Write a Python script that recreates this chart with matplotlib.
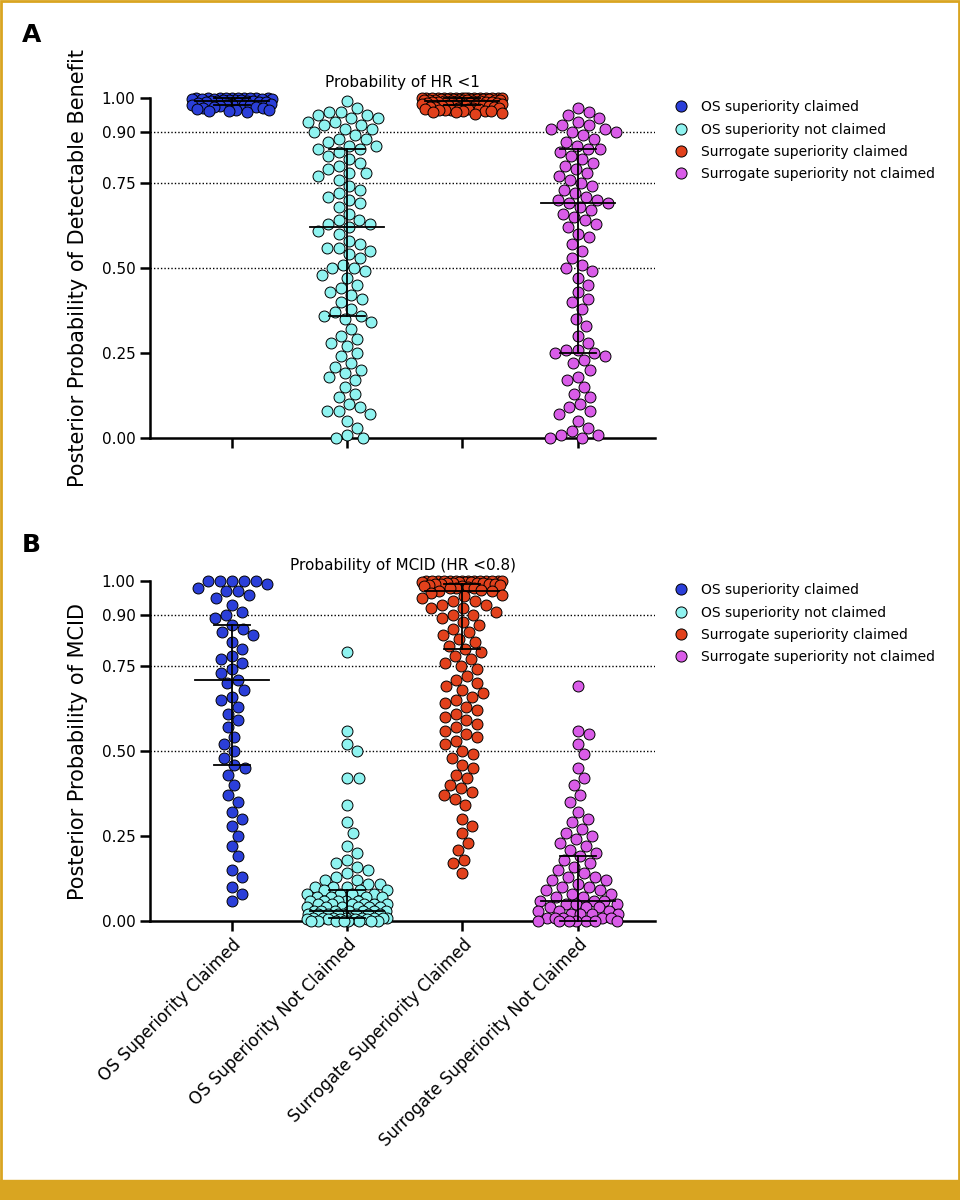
import matplotlib.pyplot as plt
import numpy as np
from matplotlib.patches import Rectangle
from matplotlib.lines import Line2D

CATEGORIES = ["OS Superiority Claimed", "OS Superiority Not Claimed",
              "Surrogate Superiority Claimed", "Surrogate Superiority Not Claimed"]
LEGEND_LABELS = ["OS superiority claimed", "OS superiority not claimed",
                 "Surrogate superiority claimed", "Surrogate superiority not claimed"]
COLORS = ["#2b3fd9", "#8ff3f0", "#e2411c", "#d95ce8"]

# Panel A: probability of HR < 1
A_os_c = [1.00, 1.00, 1.00, 1.00, 1.00, 1.00, 1.00, 1.00, 0.999, 0.999, 0.998, 0.998, 0.997, 0.997,
          0.996, 0.995, 0.995, 0.994, 0.993, 0.992, 0.991, 0.990, 0.99, 0.989, 0.988, 0.987, 0.985,
          0.984, 0.983, 0.982, 0.98, 0.98, 0.979, 0.978, 0.977, 0.975, 0.974, 0.972, 0.97, 0.968,
          0.966, 0.965, 0.963, 0.962, 0.96]
A_os_nc = [0.99, 0.97, 0.96, 0.96, 0.95, 0.95, 0.94, 0.94, 0.93, 0.93, 0.92, 0.92, 0.91, 0.91, 0.90,
           0.89, 0.88, 0.88, 0.87, 0.86, 0.86, 0.85, 0.85, 0.84, 0.83, 0.82, 0.81, 0.80, 0.79, 0.78,
           0.78, 0.77, 0.76, 0.74, 0.73, 0.72, 0.71, 0.70, 0.69, 0.68, 0.66, 0.64, 0.64, 0.63, 0.63,
           0.62, 0.61, 0.60, 0.58, 0.57, 0.56, 0.56, 0.55, 0.54, 0.53, 0.51, 0.50, 0.50, 0.49, 0.48,
           0.47, 0.45, 0.44, 0.43, 0.42, 0.41, 0.40, 0.38, 0.37, 0.36, 0.36, 0.35, 0.34, 0.32, 0.30,
           0.29, 0.28, 0.27, 0.25, 0.24, 0.22, 0.21, 0.20, 0.19, 0.18, 0.17, 0.15, 0.13, 0.12, 0.10,
           0.09, 0.08, 0.08, 0.07, 0.05, 0.03, 0.01, 0.00, 0.00]
A_sur_c = [1.00, 1.00, 1.00, 1.00, 1.00, 1.00, 1.00, 1.00, 1.00, 1.00, 1.00, 1.00, 0.999, 0.999,
           0.999, 0.999, 0.998, 0.998, 0.998, 0.997, 0.997, 0.997, 0.996, 0.996, 0.995, 0.995,
           0.995, 0.994, 0.994, 0.993, 0.993, 0.992, 0.992, 0.991, 0.990, 0.990, 0.989, 0.988,
           0.988, 0.987, 0.986, 0.985, 0.985, 0.984, 0.983, 0.982, 0.981, 0.980, 0.980, 0.979,
           0.978, 0.977, 0.976, 0.975, 0.974, 0.973, 0.972, 0.971, 0.970, 0.969, 0.968, 0.967,
           0.966, 0.965, 0.964, 0.963, 0.962, 0.961, 0.960, 0.958, 0.955, 0.952]
A_sur_nc = [0.97, 0.96, 0.95, 0.94, 0.93, 0.92, 0.92, 0.91, 0.91, 0.90, 0.90, 0.89, 0.88, 0.87, 0.86,
            0.85, 0.85, 0.84, 0.83, 0.82, 0.81, 0.80, 0.79, 0.78, 0.77, 0.76, 0.75, 0.74, 0.73, 0.72,
            0.71, 0.70, 0.70, 0.69, 0.69, 0.68, 0.67, 0.66, 0.65, 0.64, 0.63, 0.62, 0.60, 0.59, 0.57,
            0.55, 0.53, 0.51, 0.50, 0.49, 0.47, 0.45, 0.43, 0.41, 0.40, 0.38, 0.35, 0.33, 0.30, 0.28,
            0.26, 0.26, 0.25, 0.25, 0.24, 0.23, 0.22, 0.20, 0.18, 0.17, 0.15, 0.13, 0.12, 0.10, 0.09,
            0.08, 0.07, 0.05, 0.03, 0.02, 0.01, 0.01, 0.00, 0.00]

# Panel B: probability of MCID (HR < 0.8)
B_os_c = [1.0, 1.0, 1.0, 1.0, 1.0, 0.99, 0.98, 0.97, 0.97, 0.96, 0.95, 0.93, 0.91, 0.90, 0.89, 0.87,
          0.86, 0.85, 0.84, 0.82, 0.80, 0.78, 0.77, 0.76, 0.74, 0.73, 0.71, 0.70, 0.68, 0.66, 0.65,
          0.63, 0.61, 0.59, 0.57, 0.54, 0.52, 0.50, 0.48, 0.46, 0.45, 0.43, 0.40, 0.37, 0.35, 0.32,
          0.30, 0.28, 0.25, 0.22, 0.19, 0.15, 0.13, 0.10, 0.08, 0.06]
B_os_nc = [0.79, 0.56, 0.52, 0.50, 0.42, 0.42, 0.34, 0.29, 0.26, 0.22, 0.20, 0.18, 0.17, 0.16, 0.15,
           0.14, 0.13, 0.12, 0.12, 0.11, 0.11, 0.10, 0.10, 0.10, 0.09, 0.09, 0.09, 0.08, 0.08, 0.08,
           0.08, 0.07, 0.07, 0.07, 0.07, 0.06, 0.06, 0.06, 0.06, 0.06, 0.05, 0.05, 0.05, 0.05, 0.05,
           0.05, 0.04, 0.04, 0.04, 0.04, 0.04, 0.04, 0.03, 0.03, 0.03, 0.03, 0.03, 0.03, 0.03, 0.02,
           0.02, 0.02, 0.02, 0.02, 0.02, 0.02, 0.02, 0.01, 0.01, 0.01, 0.01, 0.01, 0.01, 0.01, 0.01,
           0.01, 0.005, 0.005, 0.005, 0.005, 0.005, 0.00, 0.00, 0.00, 0.00, 0.00, 0.00, 0.00, 0.00]
B_sur_c = [1.00, 1.00, 1.00, 1.00, 1.00, 1.00, 1.00, 1.00, 1.00, 1.00, 1.00, 1.00, 0.999, 0.999,
           0.998, 0.998, 0.997, 0.996, 0.995, 0.995, 0.994, 0.993, 0.992, 0.991, 0.99, 0.99, 0.988,
           0.987, 0.985, 0.984, 0.983, 0.98, 0.98, 0.978, 0.975, 0.97, 0.97, 0.965, 0.96, 0.955,
           0.95, 0.94, 0.94, 0.93, 0.93, 0.92, 0.92, 0.91, 0.90, 0.90, 0.89, 0.88, 0.87, 0.86, 0.85,
           0.84, 0.83, 0.82, 0.81, 0.80, 0.79, 0.78, 0.77, 0.76, 0.75, 0.74, 0.72, 0.71, 0.70, 0.69,
           0.68, 0.67, 0.66, 0.65, 0.64, 0.63, 0.62, 0.61, 0.60, 0.59, 0.58, 0.57, 0.56, 0.55, 0.54,
           0.53, 0.52, 0.50, 0.49, 0.48, 0.46, 0.45, 0.43, 0.42, 0.40, 0.39, 0.38, 0.37, 0.36, 0.34,
           0.30, 0.28, 0.26, 0.23, 0.21, 0.18, 0.17, 0.14]
B_sur_nc = [0.69, 0.56, 0.55, 0.52, 0.49, 0.45, 0.42, 0.40, 0.37, 0.35, 0.32, 0.30, 0.29, 0.27, 0.26,
            0.25, 0.24, 0.23, 0.22, 0.21, 0.20, 0.19, 0.18, 0.17, 0.16, 0.15, 0.14, 0.13, 0.13, 0.12,
            0.12, 0.11, 0.10, 0.10, 0.09, 0.09, 0.08, 0.08, 0.07, 0.07, 0.06, 0.06, 0.06, 0.05, 0.05,
            0.05, 0.04, 0.04, 0.04, 0.03, 0.03, 0.03, 0.02, 0.02, 0.02, 0.02, 0.01, 0.01, 0.01, 0.01,
            0.01, 0.00, 0.00, 0.00, 0.00, 0.00, 0.00, 0.00]

# median, q1, q3
A_summary = [(0.99, 0.98, 1.00), (0.62, 0.36, 0.85), (0.99, 0.98, 1.00), (0.69, 0.25, 0.85)]
B_summary = [(0.71, 0.46, 0.87), (0.03, 0.01, 0.09), (0.97, 0.80, 0.99), (0.06, 0.00, 0.19)]

YTICKS = [0.0, 0.25, 0.5, 0.75, 0.9, 1.0]
XLIM = (-0.71, 3.67)
AX_W_PX = 505
AX_H_PX = 340


def swarm_offsets(vals, d=11.5, maxw=40.0):
    # simple beeswarm in pixel space, capped width
    ypx = np.asarray(vals, dtype=float) * AX_H_PX
    order = np.argsort(-ypx)
    placed = []
    xs = np.zeros(len(ypx))
    cands = np.arange(0, maxw + 0.5, 1.0)
    cands = np.concatenate([[0.0], np.ravel(np.column_stack([cands[1:], -cands[1:]]))])
    for i in order:
        y = ypx[i]
        best, best_d = 0.0, -1
        for c in cands:
            if placed:
                p = np.array(placed)
                dist = np.hypot(p[:, 0] - c, p[:, 1] - y).min()
            else:
                dist = np.inf
            if dist >= d:
                best = c
                break
            if dist > best_d:
                best_d, best = dist, c
        xs[i] = best
        placed.append((best, y))
    return xs * (XLIM[1] - XLIM[0]) / AX_W_PX


def draw_panel(ax, groups, summary, title):
    for i, vals in enumerate(groups):
        dx = swarm_offsets(vals)
        ax.scatter(i + dx, vals, s=62, c=COLORS[i], edgecolors="black",
                   linewidths=0.7, zorder=3, clip_on=False)
    unit = (XLIM[1] - XLIM[0]) / AX_W_PX
    for i, (med, q1, q3) in enumerate(summary):
        ax.plot([i - 37 * unit, i + 37 * unit], [med, med], color="black", lw=1.3, zorder=4)
        ax.plot([i - 18 * unit, i + 18 * unit], [q1, q1], color="black", lw=1.3, zorder=4, clip_on=False)
        ax.plot([i - 18 * unit, i + 18 * unit], [q3, q3], color="black", lw=1.3, zorder=4, clip_on=False)
        ax.plot([i, i], [q1, q3], color="black", lw=1.3, zorder=4, clip_on=False)
    for y in [0.5, 0.75, 0.9]:
        ax.axhline(y, color="black", lw=1.0, ls=(0, (1, 1.5)), zorder=1)
    ax.set_xlim(*XLIM)
    ax.set_ylim(0, 1.0)
    ax.set_yticks(YTICKS)
    ax.set_yticklabels([f"{t:.2f}" for t in YTICKS], fontsize=11)
    ax.spines["top"].set_visible(False)
    ax.spines["right"].set_visible(False)
    ax.spines["left"].set_linewidth(1.8)
    ax.spines["bottom"].set_linewidth(1.8)
    ax.tick_params(width=1.8, length=7)
    ax.set_title(title, fontsize=11, pad=8)
    handles = [Line2D([0], [0], marker="o", ls="", markerfacecolor=c, markeredgecolor="black",
                      markeredgewidth=0.7, markersize=8) for c in COLORS]
    ax.legend(handles, LEGEND_LABELS, loc="upper left", bbox_to_anchor=(1.0, 1.03),
              frameon=False, fontsize=10, handletextpad=0.4, labelspacing=0.6)


fig = plt.figure(figsize=(9.6, 12), dpi=100)
axA = fig.add_axes([150 / 960, 1 - 438 / 1200, AX_W_PX / 960, AX_H_PX / 1200])
axB = fig.add_axes([150 / 960, 1 - 921 / 1200, AX_W_PX / 960, AX_H_PX / 1200])

draw_panel(axA, [A_os_c, A_os_nc, A_sur_c, A_sur_nc], A_summary, "Probability of HR <1")
draw_panel(axB, [B_os_c, B_os_nc, B_sur_c, B_sur_nc], B_summary, "Probability of MCID (HR <0.8)")

axA.set_ylabel("Posterior Probability of Detectable Benefit", fontsize=15, labelpad=10)
axB.set_ylabel("Posterior Probability of MCID", fontsize=15, labelpad=10)
for ax in (axA, axB):
    ax.set_xticks(range(4))
axA.set_xticklabels([])
axB.set_xticklabels(CATEGORIES, rotation=45, ha="right", rotation_mode="anchor", fontsize=12)

fig.text(22 / 960, 1 - 35 / 1200, "A", fontsize=18, fontweight="bold", va="center")
fig.text(22 / 960, 1 - 545 / 1200, "B", fontsize=18, fontweight="bold", va="center")

gold = "#d9a521"
fig.patches.append(Rectangle((0, 0), 1, 20 / 1200, transform=fig.transFigure, color=gold))
fig.patches.append(Rectangle((0.001, 0.001), 0.998, 0.998, transform=fig.transFigure,
                             fill=False, edgecolor=gold, lw=2))

fig.savefig("out.png", dpi=100)
